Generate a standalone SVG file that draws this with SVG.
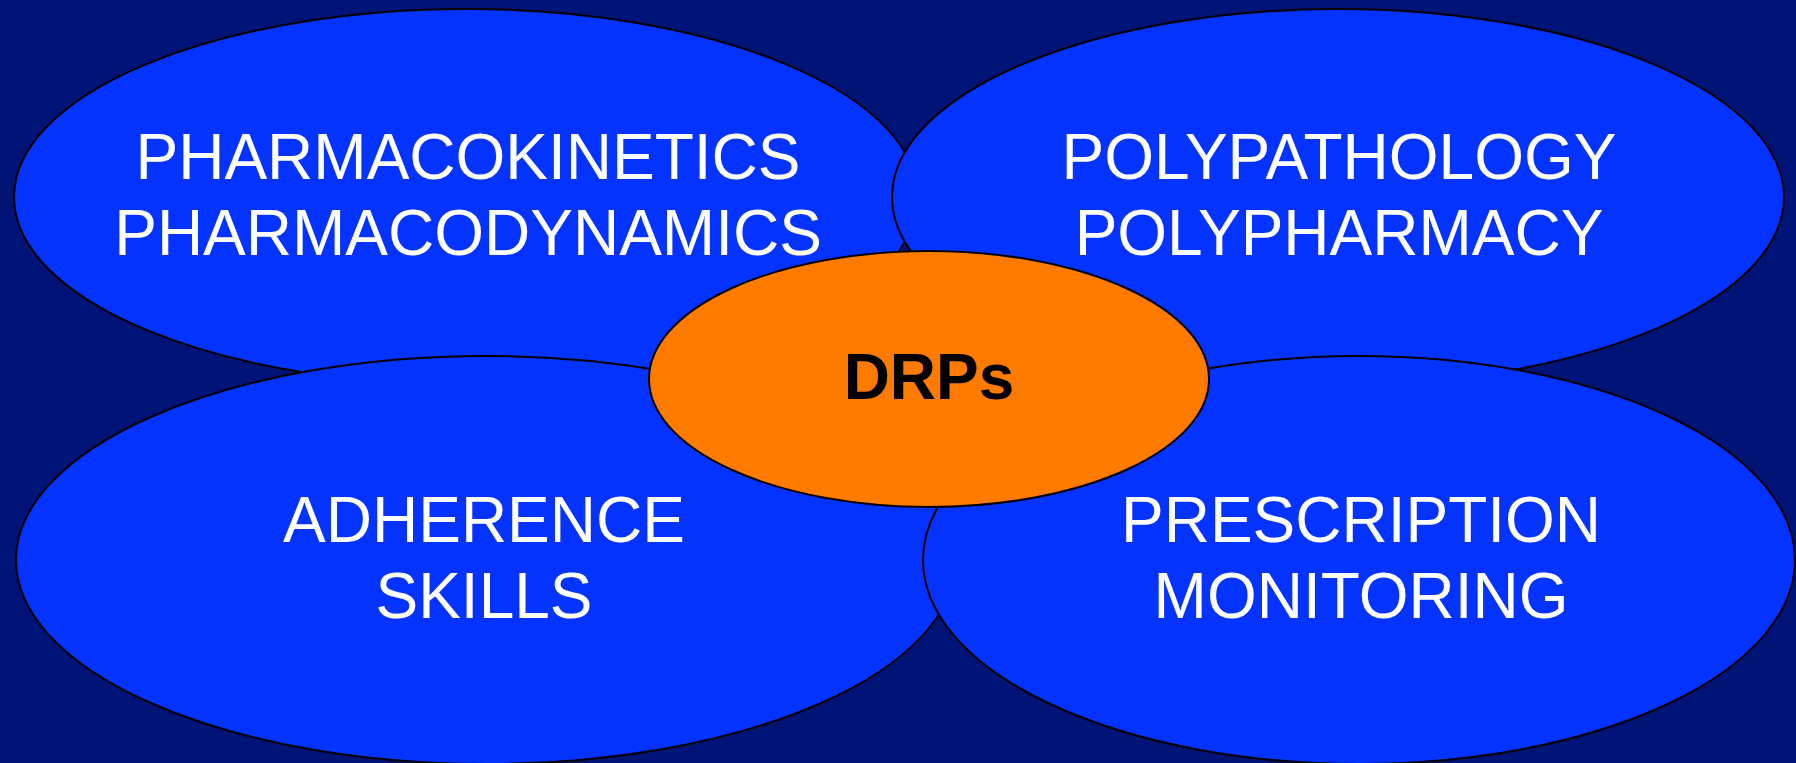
<svg xmlns="http://www.w3.org/2000/svg" width="1796" height="763" viewBox="0 0 1796 763">
<style>
.bg{fill:#001478}
.blob{fill:#0433FF;stroke:#000;stroke-width:2}
.core{fill:#FF7B00;stroke:#000;stroke-width:2}
.lbl{font-family:"Liberation Sans",Arial,sans-serif;font-size:64px;fill:#fff;text-anchor:middle}
.core-lbl{font-family:"Liberation Sans",Arial,sans-serif;font-size:64px;font-weight:bold;fill:#000;text-anchor:middle}
</style>
<rect class="bg" x="0" y="0" width="1796" height="763"/>
<g id="pharmaco">
<ellipse class="blob" cx="466" cy="197" rx="452" ry="188"/>
<text class="lbl" x="468" y="179">PHARMACOKINETICS</text>
<text class="lbl" x="468" y="255">PHARMACODYNAMICS</text>
</g>
<g id="poly">
<ellipse class="blob" cx="1338" cy="197" rx="446" ry="188"/>
<text class="lbl" x="1339" y="179">POLYPATHOLOGY</text>
<text class="lbl" x="1339" y="255">POLYPHARMACY</text>
</g>
<g id="adherence">
<ellipse class="blob" cx="486" cy="560" rx="470" ry="204"/>
<text class="lbl" x="484" y="542">ADHERENCE</text>
<text class="lbl" x="484" y="618">SKILLS</text>
</g>
<g id="prescription">
<ellipse class="blob" cx="1359" cy="560" rx="436" ry="204"/>
<text class="lbl" x="1361" y="542">PRESCRIPTION</text>
<text class="lbl" x="1361" y="618">MONITORING</text>
</g>
<g id="drps">
<ellipse class="core" cx="929" cy="379" rx="280" ry="128"/>
<text class="core-lbl" x="929" y="399">DRPs</text>
</g>
<g id="connectors"></g>
</svg>
